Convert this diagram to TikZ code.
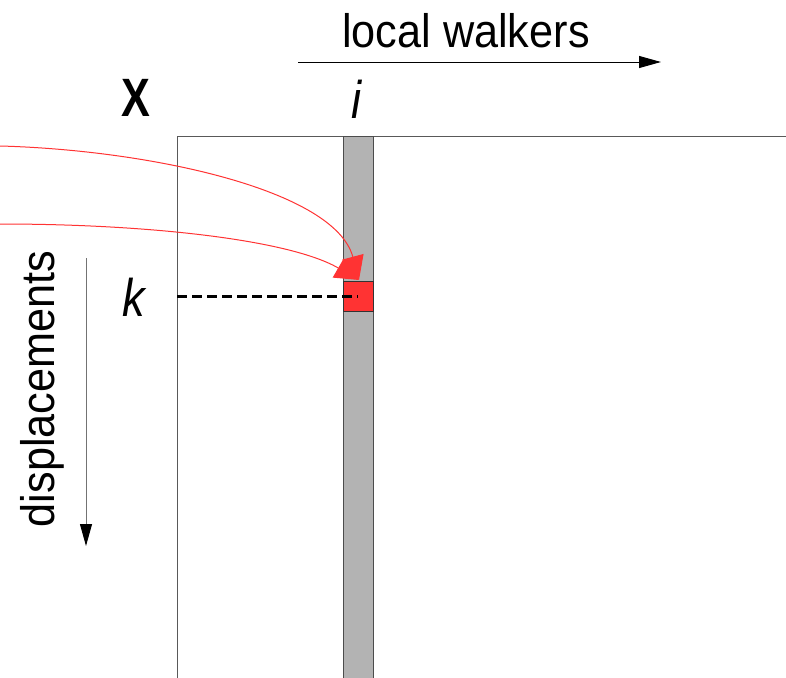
\documentclass[tikz,border=0pt]{standalone}
\usepackage{fontspec}
\setmainfont{Liberation Sans}
\usetikzlibrary{arrows.meta}
\definecolor{cellred}{HTML}{FF3333}
\definecolor{colgray}{HTML}{B3B3B3}
\newcommand{\narrow}[2][0.92]{\scalebox{#1}[1]{#2}}
\begin{document}
\begin{tikzpicture}[x=1pt,y=-1pt,
  label/.style={inner sep=0pt,font=\fontsize{47}{47}\selectfont},
  symbol/.style={inner sep=0pt,font=\fontsize{53}{53}\selectfont},
  axisarrow/.style={-{Triangle[length=22pt,width=12pt,color=black]},line width=1pt},
  walkerlink/.style={cellred,line width=1pt,-{Triangle[length=24pt,width=22pt]}},
  cellbox/.style={draw=black!80,line width=1pt,fill=cellred,minimum size=30pt,inner sep=0pt}]
\useasboundingbox (0,0) rectangle (786,677);
\begin{scope}
\clip (0,0) rectangle (786,677);
% matrix outline
\draw[black!65,line width=1pt] (177,700) -- (177,136) -- (800,136);
% selected column
\draw[black!70,line width=1pt,fill=colgray] (343,700) rectangle (373,136);
\end{scope}
% selected element
\node[cellbox] (cell) at (358,296) {};
% axes
\coordinate (wstart) at (298,62);
\coordinate (wend) at (661,62);
\draw[axisarrow] (wstart) -- (wend);
\node[label] (walkers) at (466,31) {\narrow{local walkers}};
\coordinate (dstart) at (86,258);
\coordinate (dend) at (86,546);
\draw[axisarrow,draw=black!55] (dstart) -- (dend);
\node[label,rotate=90] (disp) at (42,389) {\narrow{displacements}};
% labels
\node[symbol,font=\fontsize{54}{54}\selectfont\bfseries] (X) at (136,98) {\narrow[0.8]{X}};
\node[symbol,font=\fontsize{53}{53}\selectfont\itshape] (i) at (356,99) {\narrow[0.85]{i}};
\node[symbol,font=\fontsize{53}{53}\selectfont\itshape] (k) at (134,297) {\narrow[0.85]{k}};
% row guide
\coordinate (rowstart) at (177,296);
\draw[line width=3pt,dash pattern=on 10pt off 5pt] (rowstart) -- (cell.center);
% incoming links
\coordinate (src1) at (0,146);
\coordinate (src2) at (0,224);
\coordinate (tip) at (359,280);
\draw[walkerlink] (src1) .. controls (150,150) and (335,190) .. (tip);
\draw[walkerlink] (src2) .. controls (150,224) and (290,240) .. (tip);
\end{tikzpicture}
\end{document}
